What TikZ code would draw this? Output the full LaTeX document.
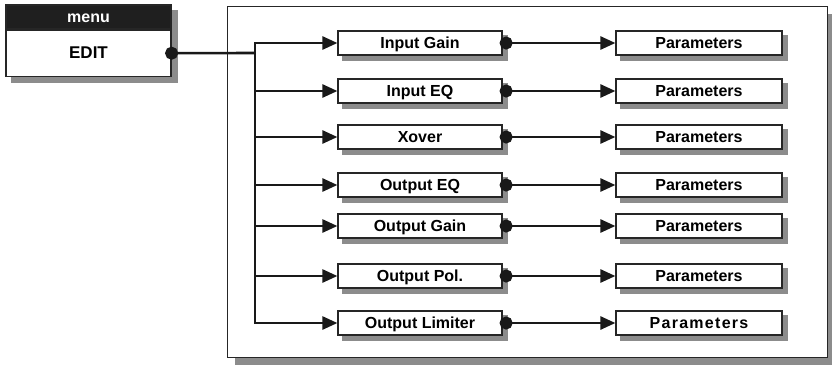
\documentclass[tikz,border=0pt]{standalone}
\usepackage{fontspec}
\setmainfont{Liberation Sans}
\usetikzlibrary{arrows.meta}
\usetikzlibrary{positioning}
\usetikzlibrary{backgrounds}

\begin{document}
\begin{tikzpicture}[x=1pt,y=-1pt,
  shadow fill/.style={fill=black!45, draw=none},
  stage/.style={shape=rectangle, draw=black!85, line width=1.2pt, fill=white,
    minimum width=164pt, minimum height=24pt, inner sep=0pt,
    text height=11.5pt, text depth=1pt,
    font=\fontsize{16}{18}\selectfont\bfseries},
  param/.style={stage, minimum width=166pt},
  link/.style={line width=2.6pt, black!90},
  feed/.style={link, -{Triangle[length=15pt,width=13pt]}},
  tap/.style={link, {Circle[length=13pt]}-{Triangle[length=15pt,width=13pt]}, shorten <=-3pt}]

\useasboundingbox (0,0) rectangle (832,365);

% menu box
\node[shape=rectangle, draw=black!85, fill=black!88, text=white, line width=1.2pt,
  minimum width=165pt, minimum height=24pt, inner sep=0pt,
  text height=11pt, text depth=1pt,
  font=\fontsize{16}{18}\selectfont\bfseries] (menu) at (88.5,17) {menu};
\node[shape=rectangle, draw=black!85, fill=white, line width=1.2pt,
  minimum width=165pt, minimum height=46pt, inner sep=0pt,
  text height=11.5pt, text depth=1pt,
  font=\fontsize{17}{19}\selectfont\bfseries, below=0pt of menu] (edit) {EDIT};

% stages
\node[stage] (ig) at (420,43) {Input Gain};
\node[stage] (ieq) at (420,91) {Input EQ};
\node[stage] (xo) at (420,137) {Xover};
\node[stage] (oeq) at (420,185) {Output EQ};
\node[stage] (og) at (420,226) {Output Gain};
\node[stage] (op) at (420,276) {Output Pol.};
\node[stage] (ol) at (420,323) {Output Limiter};

% parameter boxes
\node[param] (igp) at (699,43) {Parameters};
\node[param] (ieqp) at (699,91) {Parameters};
\node[param] (xop) at (699,137) {Parameters};
\node[param] (oeqp) at (699,185) {Parameters};
\node[param] (ogp) at (699,226) {Parameters};
\node[param] (opp) at (699,276) {Parameters};
\node[param] (olp) at (699,323) {{\addfontfeature{LetterSpace=8}Parameters}};

% frame and shadows behind everything
\begin{scope}[on background layer]
  \fill[shadow fill] (235,14) rectangle (834,365);
  \draw[line width=1pt, draw=black!85, fill=white] (227,6) rectangle (827,357);
  \fill[shadow fill] ([shift={(6pt,-6pt)}]menu.north west) rectangle ([shift={(6pt,-6pt)}]edit.south east);
  \foreach \n in {ig,ieq,xo,oeq,og,op,ol,igp,ieqp,xop,oeqp,ogp,opp,olp}
    \fill[shadow fill] ([shift={(5pt,-5pt)}]\n.north west) rectangle ([shift={(5pt,-5pt)}]\n.south east);
\end{scope}

% bus
\coordinate (bus) at (255,53);
\draw[link, {Circle[length=13pt]}-, shorten <=-6.5pt] (edit.east) -- (bus);
\draw[feed] (bus) |- (ig.west);
\draw[feed] (bus) |- (ieq.west);
\draw[feed] (bus) |- (xo.west);
\draw[feed] (bus) |- (oeq.west);
\draw[feed] (bus) |- (og.west);
\draw[feed] (bus) |- (op.west);
\draw[feed] (bus) |- (ol.west);

% taps
\draw[tap] (ig.east) -- (igp.west);
\draw[tap] (ieq.east) -- (ieqp.west);
\draw[tap] (xo.east) -- (xop.west);
\draw[tap] (oeq.east) -- (oeqp.west);
\draw[tap] (og.east) -- (ogp.west);
\draw[tap] (op.east) -- (opp.west);
\draw[tap] (ol.east) -- (olp.west);
\end{tikzpicture}
\end{document}
